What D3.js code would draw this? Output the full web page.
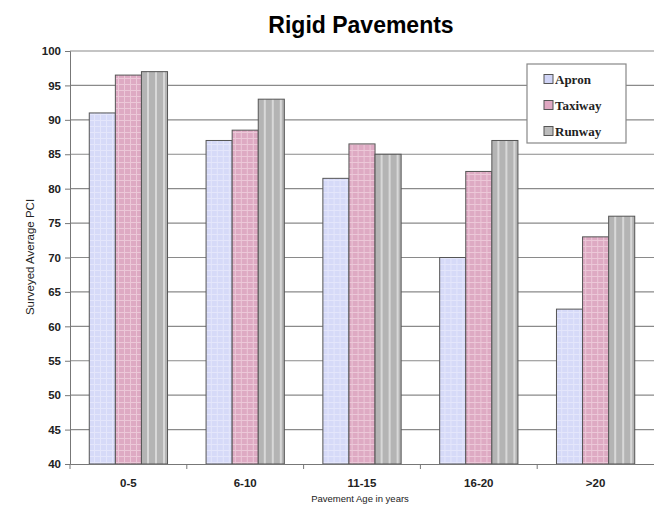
<!doctype html>
<html lang="en">
<head>
<meta charset="utf-8">
<title>Rigid Pavements</title>
<script src="https://cdn.jsdelivr.net/npm/d3@7"></script>
<style>
  body { margin: 0; background: #fff; }
  text { font-family: "Liberation Sans", Arial, sans-serif; }
  .tick-label { font-size: 11.5px; font-weight: bold; fill: #222; }
  .legend text { font-family: "Liberation Serif", "Times New Roman", serif; font-weight: bold; font-size: 13px; fill: #222; }
</style>
</head>
<body>
<div id="viz"></div>
<script>
// Data
var categories = ["0-5", "6-10", "11-15", "16-20", ">20"];
var series = ["Apron", "Taxiway", "Runway"];
var apron = [91, 87, 81.5, 70, 62.5];
var taxiway = [96.5, 88.5, 86.5, 82.5, 73];
var runway = [97, 93, 85, 87, 76];
var yTicks = [40, 45, 50, 55, 60, 65, 70, 75, 80, 85, 90, 95, 100];

(function(d3) {
	var w = 654, h = 507;
	var margin = {top: 51, right: 0, bottom: 43, left: 70};
	var values = [apron, taxiway, runway];

	var svg = d3.select("#viz").append("svg")
		.attr("width", w)
		.attr("height", h);

	// fill patterns, one per series
	var defs = svg.append("defs");
	var pA = defs.append("pattern").attr("id", "pat-apron")
		.attr("patternUnits", "userSpaceOnUse").attr("width", 6).attr("height", 6);
	pA.append("rect").attr("width", 6).attr("height", 6).attr("fill", "#d6daf8");
	pA.append("path").attr("d", "M0,0.5H6M0.5,0V6").attr("stroke", "#e4e6fb").attr("stroke-width", 1);

	var pT = defs.append("pattern").attr("id", "pat-taxiway")
		.attr("patternUnits", "userSpaceOnUse").attr("width", 6).attr("height", 6);
	pT.append("rect").attr("width", 6).attr("height", 6).attr("fill", "#deaac3");
	pT.append("path").attr("d", "M0,0.5H6M0.5,0V6").attr("stroke", "#ecc8d8").attr("stroke-width", 1);

	var pR = defs.append("pattern").attr("id", "pat-runway")
		.attr("patternUnits", "userSpaceOnUse").attr("width", 8).attr("height", 8);
	pR.append("rect").attr("width", 8).attr("height", 8).attr("fill", "#b4b4b4");
	pR.append("rect").attr("x", 5).attr("width", 2).attr("height", 8).attr("fill", "#d8d8d8");

	var fills = ["url(#pat-apron)", "url(#pat-taxiway)", "url(#pat-runway)"];
	var swatch = ["#d0d4f6", "#e0a8c2", "#bcbcbc"];

	// scales
	var x0 = d3.scaleBand().domain(categories).range([margin.left, 654]);
	var bw = x0.bandwidth();
	var x1 = d3.scaleBand().domain(series).range([bw * 0.165, bw * 0.835]);
	var y = d3.scaleLinear().domain([40, 100]).range([h - margin.bottom, margin.top]);

	// gridlines (the 100 line closes the plot area at the top)
	svg.append("g").selectAll("line")
		.data(yTicks.slice(1))
		.enter().append("line")
		.attr("x1", margin.left).attr("x2", w)
		.attr("y1", function(d){ return y(d); })
		.attr("y2", function(d){ return y(d); })
		.attr("stroke", "#8a8a8a").attr("stroke-width", 1.2);

	// bars
	var groups = svg.append("g").selectAll("g")
		.data(categories)
		.enter().append("g")
		.attr("transform", function(d){ return "translate(" + x0(d) + ",0)"; });

	groups.selectAll("rect")
		.data(function(c, ci){
			return series.map(function(s, si){ return {s: s, si: si, v: values[si][ci]}; });
		})
		.enter().append("rect")
		.attr("x", function(d){ return x1(d.s); })
		.attr("width", x1.bandwidth())
		.attr("y", function(d){ return y(d.v); })
		.attr("height", function(d){ return y(40) - y(d.v); })
		.attr("fill", function(d){ return fills[d.si]; })
		.attr("stroke", "#555")
		.attr("stroke-width", 1);

	// y axis
	var yAxis = svg.append("g")
		.attr("transform", "translate(" + margin.left + ",0)")
		.call(d3.axisLeft(y).tickValues(yTicks).tickSize(5).tickPadding(4));
	yAxis.selectAll("path, line").attr("stroke", "#777");
	yAxis.selectAll("text").attr("class", "tick-label").attr("font-family", null).attr("font-size", null);

	// x axis
	var xAxis = svg.append("g")
		.attr("transform", "translate(0," + y(40) + ")")
		.call(d3.axisBottom(x0).tickSize(0).tickPadding(15));
	xAxis.select("path").attr("stroke", "#777");
	xAxis.selectAll("text").attr("class", "tick-label").attr("font-family", null).attr("font-size", null);

	// category separators below the axis
	svg.append("g").selectAll("line")
		.data(categories)
		.enter().append("line")
		.attr("x1", function(d){ return x0(d); })
		.attr("x2", function(d){ return x0(d); })
		.attr("y1", y(40)).attr("y2", y(40) + 5)
		.attr("stroke", "#777");

	// titles
	svg.append("text")
		.attr("x", 361).attr("y", 33)
		.attr("text-anchor", "middle")
		.style("font-size", "23px").style("font-weight", "bold")
		.text("Rigid Pavements");

	svg.append("text")
		.attr("transform", "translate(34,257) rotate(-90)")
		.attr("text-anchor", "middle")
		.style("font-size", "11.5px").style("fill", "#222")
		.text("Surveyed Average PCI");

	svg.append("text")
		.attr("x", 360).attr("y", 502)
		.attr("text-anchor", "middle")
		.style("font-size", "9.5px").style("fill", "#222")
		.text("Pavement Age in years");

	// legend
	var lg = svg.append("g").attr("class", "legend").attr("transform", "translate(527,64)");
	lg.append("rect").attr("width", 99).attr("height", 79)
		.attr("fill", "#fff").attr("stroke", "#888").attr("stroke-width", 1.2);
	var items = lg.selectAll("g.item")
		.data(series)
		.enter().append("g").attr("class", "item")
		.attr("transform", function(d, i){ return "translate(17," + (15 + i * 26) + ")"; });
	items.append("rect")
		.attr("width", 9).attr("height", 9).attr("y", -4.5)
		.attr("fill", function(d, i){ return swatch[i]; })
		.attr("stroke", "#555");
	items.append("text")
		.attr("x", 11).attr("y", 5)
		.text(function(d){ return d; });
})(d3);
</script>
</body>
</html>
